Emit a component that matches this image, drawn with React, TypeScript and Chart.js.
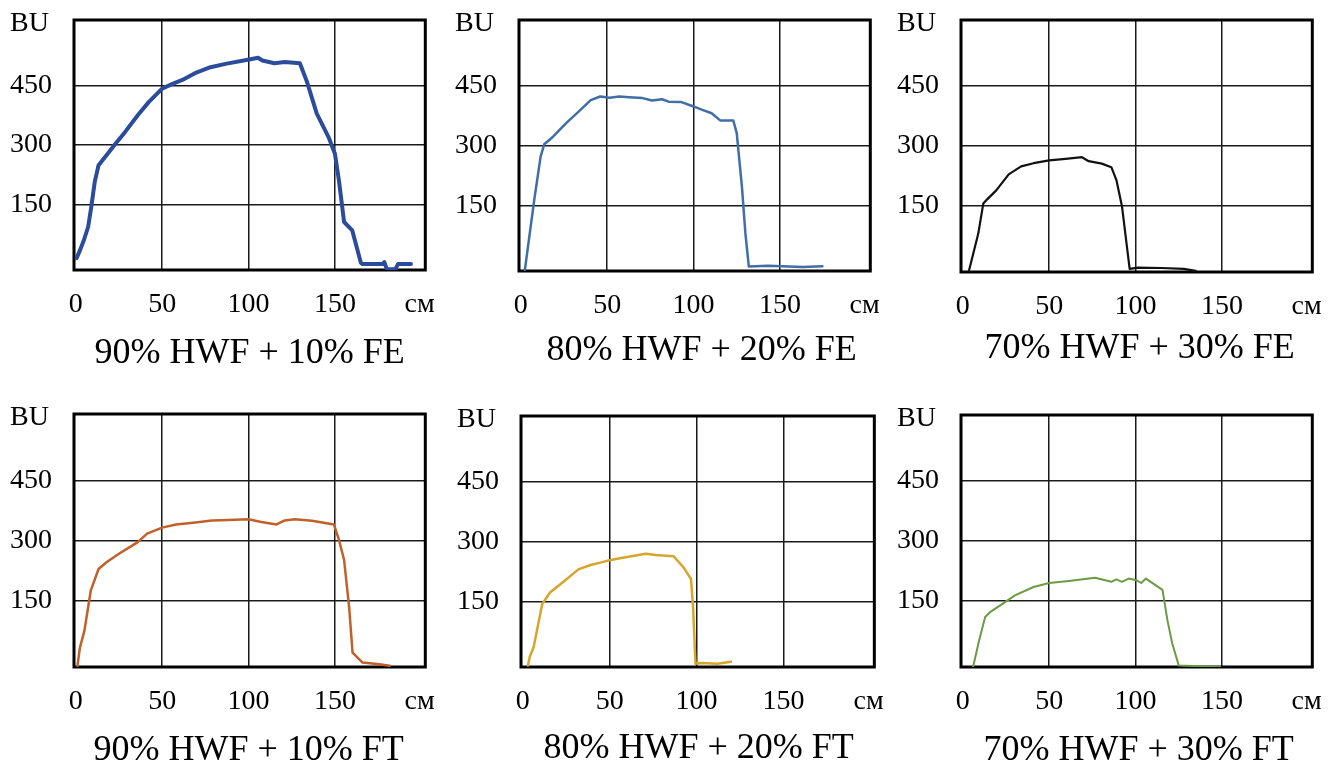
import React, { useEffect, useRef } from "react";
import { Chart, registerables } from "chart.js";

Chart.register(...registerables);

// ---- axes ----
const X_TICKS = [0, 50, 100, 150, 199];
const X_UNIT_TICK = 199;
const X_UNIT = "см";
const Y_TICKS = [150, 300, 450, 605];
const Y_UNIT_TICK = 605;
const Y_UNIT = "BU";
const X_MIN = -1;
const X_MAX = 202.3;
const Y_MIN = -15;
const Y_MAX = 615;

// ---- titles ----
const TITLES = [
  "90% HWF + 10% FE",
  "80% HWF + 20% FE",
  "70% HWF + 30% FE",
  "90% HWF + 10% FT",
  "80% HWF + 20% FT",
  "70% HWF + 30% FT",
];

// ---- series data (cm, BU) ----
const fe10X = [0.5, 2.5, 4.7, 7.2, 9, 11, 13.2, 17.8, 23, 28.6, 35.9, 42.2, 50, 56, 61.7, 69, 78, 87.4, 99.6, 105.5, 108, 115, 121, 129.7, 133.6, 139.5, 146.3, 150, 152.3, 155.3, 160, 165, 166, 177.7, 178.6, 180, 185, 186.5, 194];
const fe10Y = [15, 35, 60, 94, 144, 207, 249, 274, 303, 333, 375, 408, 442, 454, 464, 481, 496, 505, 515, 520, 513, 506, 509, 506, 462, 379, 320, 278, 211, 106, 85, 3, 0, 0, 5, -13, -13, 0, 0];

const fe20X = [2.4, 3.8, 7.8, 11.5, 13.6, 18.7, 26, 33.5, 40.5, 46, 51.5, 57, 62.8, 70.5, 76, 81.8, 85.6, 93, 100, 104.7, 110.5, 115.4, 123, 125, 128, 130, 132, 143, 155, 163, 174.6];
const fe20Y = [-12, 33, 163, 272, 303, 322, 355, 385, 414, 423, 420, 423, 421, 419, 413, 416, 410, 409, 398, 390, 381, 363, 363, 331, 197, 80, -4, -2, -4, -5, -3];

const fe30X = [3.6, 6.8, 9, 11.9, 14, 19.4, 26.6, 33.8, 41, 50, 59.5, 69, 72.9, 80.5, 86, 89, 92.2, 96.6, 101.5, 115, 128, 134.8];
const fe30Y = [-12, 43, 81, 156, 166, 189, 229, 249, 257, 264, 268, 272, 262, 256, 247, 214, 148, -7, -4, -5, -7, -12];

const ft10X = [1, 2.4, 5, 8.7, 13.2, 17.8, 25, 32.2, 35.9, 41.3, 50, 58, 69.3, 78.8, 88.3, 100, 107.4, 116.2, 121, 126.8, 136.7, 149.4, 152.3, 155.3, 158.2, 160.2, 166, 175.8, 181.6];
const ft10Y = [-12, 33, 75, 175, 229, 246, 267, 286, 296, 317, 332, 340, 345, 350, 351, 353, 346, 340, 350, 353, 349, 340, 302, 252, 135, 21, -4, -8, -12];

const ft20X = [3, 4, 6.3, 11.2, 15.7, 22.9, 32, 39, 44.6, 50, 57.5, 70.8, 76.4, 86.8, 92.5, 96.8, 98, 99.4, 102.8, 112, 119.8];
const ft20Y = [-11, 10, 35, 143, 172, 197, 230, 241, 247, 253, 259, 269, 266, 263, 235, 206, 135, -7, -5, -7, -2];

const ft30X = [6, 9.5, 13, 15.8, 23, 30.2, 41, 50, 61.4, 76.6, 86, 88.9, 92.2, 96, 100.4, 103.3, 106, 115.6, 118.5, 121.3, 125, 137.6, 149];
const ft30Y = [-15, 52, 110, 122, 143, 164, 185, 195, 200, 208, 198, 204, 198, 206, 202, 195, 206, 178, 101, 43, -11, -13, -15];

// ---- layout / styles (page coordinates of each plot frame) ----
type PanelCfg = {
  L: number; R: number; T: number; B: number;
  dx: number; dy: number;
  color: string; width: number;
  xs: number[]; ys: number[]; title: string;
};

const PANELS: PanelCfg[] = [
  { L: 74, R: 433, T: 20, B: 270, dx: 0, dy: 93, color: "#2b4c9a", width: 4, xs: fe10X, ys: fe10Y, title: TITLES[0] },
  { L: 519, R: 878, T: 20, B: 271, dx: 7, dy: 89, color: "#3f6ea8", width: 2.5, xs: fe20X, ys: fe20Y, title: TITLES[1] },
  { L: 961, R: 1320, T: 20, B: 272, dx: 3, dy: 86, color: "#111111", width: 2.2, xs: fe30X, ys: fe30Y, title: TITLES[2] },
  { L: 74, R: 433, T: 414, B: 667, dx: -1, dy: 93, color: "#c0602a", width: 2.5, xs: ft10X, ys: ft10Y, title: TITLES[3] },
  { L: 521, R: 882, T: 416, B: 667, dx: 1, dy: 91, color: "#d6a52c", width: 2.5, xs: ft20X, ys: ft20Y, title: TITLES[4] },
  { L: 961, R: 1320, T: 415, B: 667, dx: 2, dy: 93, color: "#6b9b43", width: 2, xs: ft30X, ys: ft30Y, title: TITLES[5] },
];

const FONT = '"Liberation Serif", "Times New Roman", serif';
const Y_AXIS_W = 64;
const PAD_TOP = 20;
const PAD_RIGHT = 20;
const X_AXIS_H = 50;
const BELOW = 112;

function Panel({ cfg }: { cfg: PanelCfg }) {
  const ref = useRef<HTMLCanvasElement | null>(null);
  const w = Y_AXIS_W + (cfg.R - cfg.L) + PAD_RIGHT;
  const h = PAD_TOP + (cfg.B - cfg.T) + BELOW;

  useEffect(() => {
    if (!ref.current) return;
    const framePlugin = {
      id: "frame",
      beforeDatasetsDraw(chart: any) {
        const { ctx, chartArea } = chart;
        ctx.save();
        ctx.strokeStyle = "#000";
        ctx.lineWidth = 3;
        ctx.strokeRect(chartArea.left, chartArea.top, chartArea.right - chartArea.left, chartArea.bottom - chartArea.top);
        ctx.restore();
      },
    };
    const titlePlugin = {
      id: "bottomTitle",
      afterDraw(chart: any) {
        const { ctx, chartArea } = chart;
        ctx.save();
        ctx.font = `36px ${FONT}`;
        ctx.fillStyle = "#000";
        ctx.textAlign = "center";
        ctx.textBaseline = "alphabetic";
        ctx.fillText(cfg.title, (chartArea.left + chartArea.right) / 2 + cfg.dx, chartArea.bottom + cfg.dy);
        ctx.restore();
      },
    };
    const chart = new Chart(ref.current, {
      type: "line",
      data: {
        datasets: [
          {
            data: cfg.xs.map((x, i) => ({ x, y: cfg.ys[i] })),
            borderColor: cfg.color,
            borderWidth: cfg.width,
            pointRadius: 0,
            fill: false,
            tension: 0,
            borderJoinStyle: "round",
            borderCapStyle: "round",
          },
        ],
      },
      options: {
        animation: false,
        responsive: false,
        events: [],
        layout: { padding: { left: 0, top: PAD_TOP, right: PAD_RIGHT, bottom: BELOW - X_AXIS_H } },
        plugins: { legend: { display: false }, tooltip: { enabled: false }, title: { display: false } },
        scales: {
          x: {
            type: "linear",
            min: X_MIN,
            max: X_MAX,
            afterBuildTicks: (s: any) => {
              s.ticks = X_TICKS.map((v) => ({ value: v }));
            },
            afterFit: (s: any) => {
              s.height = X_AXIS_H;
            },
            grid: {
              color: (c: any) => (c.tick && (c.tick.value === X_UNIT_TICK || c.tick.value === 0) ? "rgba(0,0,0,0)" : "#1a1a1a"),
              lineWidth: 1.5,
              drawTicks: false,
            },
            border: { display: false },
            ticks: {
              padding: 18,
              color: "#000",
              autoSkip: false,
              maxRotation: 0,
              font: { family: FONT, size: 28 },
              callback: (v: any) => (v === X_UNIT_TICK ? X_UNIT : String(v)),
            },
          },
          y: {
            type: "linear",
            min: Y_MIN,
            max: Y_MAX,
            afterBuildTicks: (s: any) => {
              s.ticks = Y_TICKS.map((v) => ({ value: v }));
            },
            afterFit: (s: any) => {
              s.width = Y_AXIS_W;
            },
            grid: {
              color: (c: any) => (c.tick && c.tick.value === Y_UNIT_TICK ? "rgba(0,0,0,0)" : "#1a1a1a"),
              lineWidth: 1.5,
              drawTicks: false,
            },
            border: { display: false },
            ticks: {
              padding: 0,
              color: "#000",
              autoSkip: false,
              crossAlign: "far",
              font: { family: FONT, size: 28 },
              callback: (v: any) => (v === Y_UNIT_TICK ? Y_UNIT : String(v)),
            },
          },
        },
      } as any,
      plugins: [framePlugin, titlePlugin],
    });
    return () => chart.destroy();
  }, [cfg]);

  return (
    <canvas
      ref={ref}
      width={w}
      height={h}
      style={{ position: "absolute", left: cfg.L - Y_AXIS_W, top: cfg.T - PAD_TOP, width: w, height: h }}
    />
  );
}

export default function App() {
  return (
    <div style={{ position: "absolute", left: 0, top: 0, width: 1333, height: 764, background: "#fff", overflow: "hidden" }}>
      {PANELS.map((p, i) => (
        <Panel key={i} cfg={p} />
      ))}
    </div>
  );
}
